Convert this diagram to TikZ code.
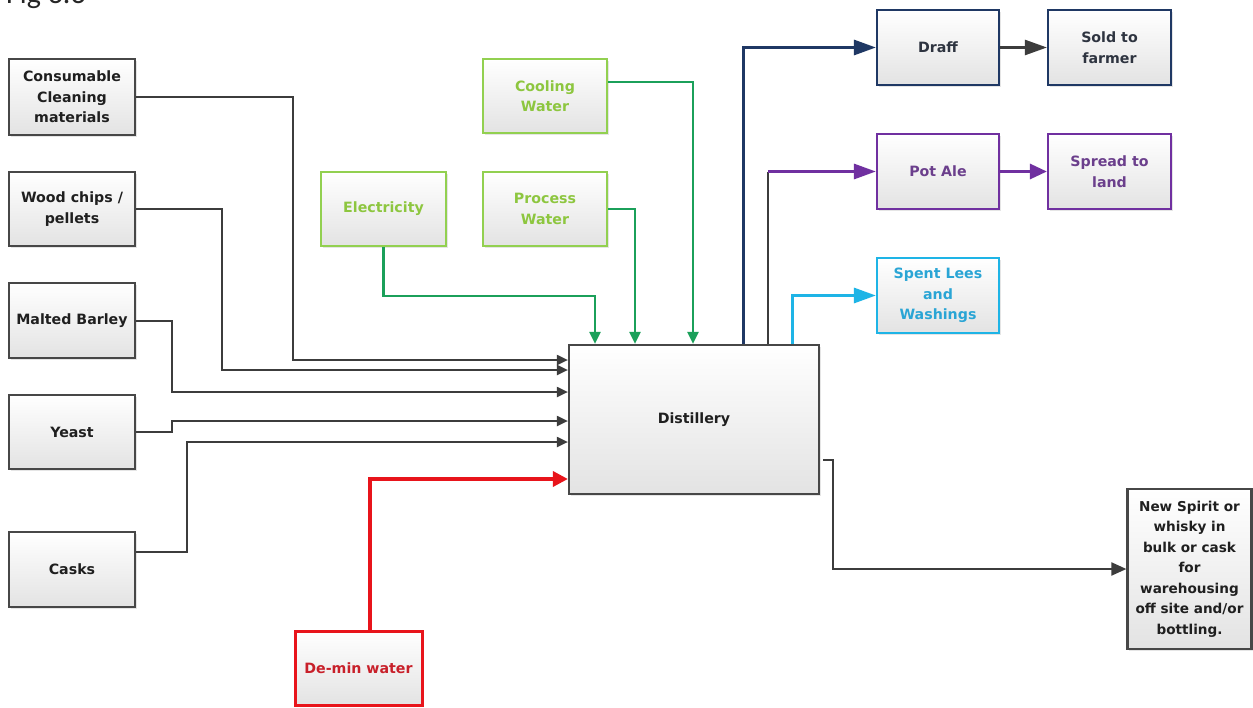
\documentclass[tikz,border=0pt]{standalone}
\usepackage{fontspec}
\setmainfont{DejaVu Sans}
\newfontfamily\titlefont{Carlito}
\usetikzlibrary{arrows.meta,shadows}
\definecolor{boxgray}{HTML}{474747}
\definecolor{lgreen}{HTML}{92D050}
\definecolor{tgreen}{HTML}{8DC63F}
\definecolor{cgreen}{HTML}{1BA05A}
\definecolor{navy}{HTML}{1F3864}
\definecolor{tnavy}{HTML}{2E3440}
\definecolor{purp}{HTML}{7030A0}
\definecolor{tpurp}{HTML}{6B3F8C}
\definecolor{cyanc}{HTML}{1EB4E6}
\definecolor{tcyan}{HTML}{2AA5D5}
\definecolor{redc}{HTML}{E8141B}
\definecolor{tred}{HTML}{C8202A}
\definecolor{linegray}{HTML}{3C3C3C}
\tikzset{
  box/.style={draw=boxgray, line width=2.2pt, top color=white, bottom color=black!11,
    align=center, text=black!88, font=\bfseries\fontsize{14.2}{20.5}\selectfont,
    inner sep=2pt, minimum width=124pt, minimum height=74pt,
    drop shadow={shadow xshift=1.5pt, shadow yshift=-1.5pt, opacity=0.2}},
  gbox/.style={box, draw=lgreen, line width=2pt, text=tgreen},
  nbox/.style={box, draw=navy, text=tnavy},
  pbox/.style={box, draw=purp, text=tpurp},
  cbox/.style={box, draw=cyanc, text=tcyan},
  rbox/.style={box, draw=redc, line width=3pt, text=tred},
  blk/.style={draw=linegray, line width=2pt, -{Triangle[length=11pt,width=10pt]}},
  grn/.style={draw=cgreen, line width=2.3pt, -{Triangle[length=12pt,width=11pt]}},
  big/.style={line width=3pt, -{Triangle[length=22pt,width=15pt]}},
}
\begin{document}
\begin{tikzpicture}[x=1pt,y=-1pt]
\useasboundingbox (0,0) rectangle (1253,707);
\fill[white] (0,0) rectangle (1253,707);
\node[anchor=base west, inner sep=0, font=\titlefont\fontsize{30}{30}\selectfont, text=black!85] (title) at (6,3) {Fig 3.3};
% left inputs
\node[box, minimum width=126pt, minimum height=76pt] (cons) at (72,97) {Consumable\\Cleaning\\materials};
\node[box, minimum width=126pt] (wood) at (72,209) {Wood chips /\\pellets};
\node[box, minimum width=126pt, minimum height=75pt] (malt) at (72,320.5) {Malted Barley};
\node[box, minimum width=126pt] (yeast) at (72,432) {Yeast};
\node[box, minimum width=126pt, minimum height=75pt] (casks) at (72,569.5) {Casks};
% green utilities
\node[gbox] (cool) at (545,96) {Cooling\\Water};
\node[gbox, minimum width=125pt] (elec) at (383.5,209) {Electricity};
\node[gbox] (proc) at (545,209) {Process\\Water};
% de-min
\node[rbox, minimum width=127pt] (demin) at (358.5,668) {De-min water};
% distillery
\node[box, minimum width=250pt, minimum height=149pt] (dist) at (694,419.5) {Distillery};
% outputs
\node[nbox, minimum width=122pt, minimum height=75pt] (draff) at (938,47.5) {Draff};
\node[nbox, minimum width=123pt, minimum height=75pt] (sold) at (1109.5,47.5) {Sold to\\farmer};
\node[pbox, minimum width=122pt, minimum height=75pt] (pot) at (938,171.5) {Pot Ale};
\node[pbox, minimum width=123pt, minimum height=75pt] (spread) at (1109.5,171.5) {Spread to\\land};
\node[cbox, minimum width=122pt, minimum height=75pt] (spent) at (938,295.5) {Spent Lees\\and\\Washings};
\node[box, minimum width=124pt, minimum height=160pt, font=\bfseries\fontsize{13.6}{20.5}\selectfont] (spirit) at (1189.5,569) {New Spirit or\\whisky in\\bulk or cask\\for\\warehousing\\off site and/or\\bottling.};
% input connectors
\draw[blk] (cons.east) -| (293,360) -- (dist.west |- 0,360);
\draw[blk] (wood.east) -| (222,370) -- (dist.west |- 0,370);
\draw[blk] (malt.east) -| (172,392) -- (dist.west |- 0,392);
\draw[blk] (yeast.east) -| (172,421) -- (dist.west |- 0,421);
\draw[blk] (casks.east |- 0,552) -| (187,442) -- (dist.west |- 0,442);
\draw[draw=redc, line width=3.5pt, -{Triangle[length=15pt,width=15pt]}] (370,0 |- demin.north) |- (dist.west |- 0,479);
\draw[grn] (elec.south) |- (595,296) -- (595,0 |- dist.north);
\draw[grn] (proc.east) -| (635,0 |- dist.north);
\draw[grn] (cool.east |- 0,82) -| (693,0 |- dist.north);
% output connectors
\draw[big, draw=navy] (743,0 |- dist.north) |- (draff.west);
\draw[big, draw=linegray, line width=2.5pt] (draff.east) -- (sold.west);
\coordinate (pc) at (768,171.5);
\draw[draw=linegray, line width=2.5pt] (768,0 |- dist.north) -- (pc);
\draw[big, draw=purp] (pc) -- (pot.west);
\draw[draw=purp, line width=3pt, -{Triangle[length=17pt,width=15pt]}] (pot.east) -- (spread.west);
\draw[big, draw=cyanc] (792,0 |- dist.north) |- (spent.west);
\coordinate (so) at (823,460);
\draw[draw=linegray, line width=2pt, -{Triangle[length=15pt,width=13pt]}] (so) -| (833,569) -- (spirit.west);
\end{tikzpicture}
\end{document}
